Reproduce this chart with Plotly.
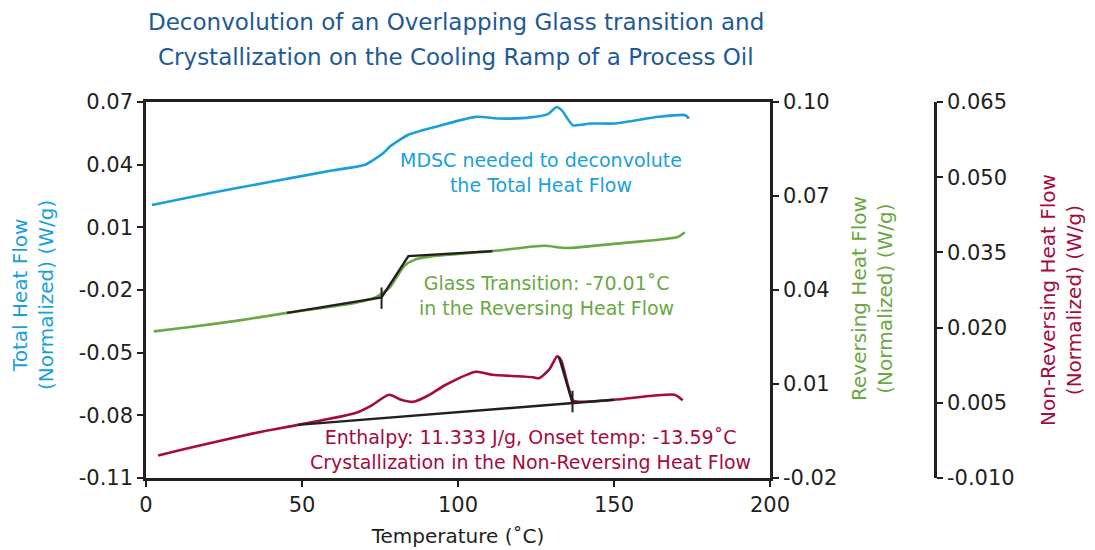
import plotly.graph_objects as go

# ---- data ----
total_T = [1.9, 20, 40, 60, 70.2, 76, 78.2, 84, 92, 105.8, 112.7, 121.8, 128.8, 131.6, 133.3, 136.8, 142.5, 150.5, 164.3, 172.9, 174]
total_v = [0.0207, 0.0262, 0.0318, 0.0373, 0.0400, 0.0455, 0.0487, 0.0542, 0.0578, 0.0629, 0.0621, 0.0624, 0.0642, 0.0676, 0.0660, 0.0589, 0.0597, 0.0597, 0.0629, 0.0637, 0.0621]

rev_T = [2.5, 13.5, 30, 45.2, 66.5, 73.5, 78.1, 82.7, 86.2, 91.9, 111, 127.7, 134.6, 150.8, 170.4, 172.7]
rev_v = [0.0268, 0.0281, 0.0303, 0.0327, 0.0358, 0.0376, 0.0408, 0.0476, 0.0497, 0.0508, 0.0524, 0.0541, 0.0534, 0.0548, 0.0569, 0.0584]

nonrev_T = [3.9, 12.4, 34.4, 48.7, 66.9, 72.1, 77.9, 81.8, 85.7, 90.3, 96.1, 105.8, 111, 124, 126, 129.2, 131.8, 133.1, 135.4, 137, 150, 169.4, 172]
nonrev_v = [-0.0055, -0.0042, -0.0011, 0.0006, 0.0029, 0.0044, 0.0066, 0.0056, 0.0052, 0.0064, 0.0086, 0.0112, 0.0106, 0.0101, 0.0099, 0.0116, 0.0143, 0.0134, 0.0081, 0.0054, 0.0056, 0.0066, 0.0055]

# glass transition analysis (reversing axis)
gt_T = [45.2, 75.5, 84.1, 111]
gt_v = [0.0327, 0.0376, 0.0508, 0.0524]
gt_mark_T = [75.5, 75.5]
gt_mark_v = [0.0408, 0.0340]

# crystallization analysis (non-reversing axis)
cr_base_T = [48.7, 150]
cr_base_v = [0.0006, 0.0056]
cr_tan_T = [132.4, 136.6]
cr_tan_v = [0.0141, 0.0052]
cr_mark_T = [136.7, 136.7]
cr_mark_v = [0.0074, 0.0031]

x_ticks = [0, 50, 100, 150, 200]
y1_ticks = [0.07, 0.04, 0.01, -0.02, -0.05, -0.08, -0.11]
y2_ticks = [0.10, 0.07, 0.04, 0.01, -0.02]
y3_ticks = [0.065, 0.050, 0.035, 0.020, 0.005, -0.010]

title_lines = ["Deconvolution of an Overlapping Glass transition and",
               "Crystallization on the Cooling Ramp of a Process Oil"]

BLUE = "#1a9fdb"
GREEN = "#6aa843"
RED = "#a50b3c"
BLACK = "#231f20"
NAVY = "#1d5a97"
FONT = "DejaVu Sans"

# page body has an 8px margin; plot area spans window px x 146..770 (third axis at 935), y 102..478
L, T_, B = 138, 94, 72
W, H = 1087, 542
PW = 789            # plot paper width (146..935)
R = W - L - PW
PH = 376


def px(X):
    return (X - 146) / PW


def py(Y):
    return (478 - Y) / PH


dom = px(770)

fig = go.Figure()
fig.add_trace(go.Scatter(x=total_T, y=total_v, mode="lines", line=dict(color=BLUE, width=2.6, shape="spline", smoothing=0.6), yaxis="y"))
fig.add_trace(go.Scatter(x=rev_T, y=rev_v, mode="lines", line=dict(color=GREEN, width=2.6, shape="spline", smoothing=0.6), yaxis="y2"))
fig.add_trace(go.Scatter(x=nonrev_T, y=nonrev_v, mode="lines", line=dict(color=RED, width=2.6, shape="spline", smoothing=0.6), yaxis="y3"))
fig.add_trace(go.Scatter(x=gt_T, y=gt_v, mode="lines", line=dict(color=BLACK, width=2.4), yaxis="y2"))
fig.add_trace(go.Scatter(x=gt_mark_T, y=gt_mark_v, mode="lines", line=dict(color=BLACK, width=2), yaxis="y2"))
fig.add_trace(go.Scatter(x=cr_base_T, y=cr_base_v, mode="lines", line=dict(color=BLACK, width=2.4), yaxis="y3"))
fig.add_trace(go.Scatter(x=cr_tan_T, y=cr_tan_v, mode="lines", line=dict(color=BLACK, width=2.4), yaxis="y3"))
fig.add_trace(go.Scatter(x=cr_mark_T, y=cr_mark_v, mode="lines", line=dict(color=BLACK, width=2), yaxis="y3"))

tickfont = dict(family=FONT, size=21, color=BLACK)
common = dict(ticks="outside", ticklen=6, tickwidth=2, tickcolor=BLACK, showline=True, linewidth=2.5,
              linecolor=BLACK, showgrid=False, zeroline=False, tickfont=tickfont)

fig.update_layout(
    width=W, height=H,
    margin=dict(l=L, r=R, t=T_, b=B, autoexpand=False),
    paper_bgcolor="white", plot_bgcolor="white",
    showlegend=False,
    font=dict(family=FONT, color=BLACK),
    xaxis=dict(domain=[0, dom], range=[0, 200], tickvals=x_ticks, mirror=True,
               title=dict(text="Temperature (˚C)", font=dict(family=FONT, size=20, color=BLACK), standoff=14), **common),
    yaxis=dict(range=[-0.11, 0.07], tickvals=y1_ticks, ticktext=[f"{v:.2f}" for v in y1_ticks], **common),
    yaxis2=dict(range=[-0.02, 0.10], tickvals=y2_ticks, ticktext=[f"{v:.2f}" for v in y2_ticks],
                overlaying="y", side="right", anchor="x", **common),
    yaxis3=dict(range=[-0.010, 0.065], tickvals=y3_ticks, ticktext=[f"{v:.3f}" for v in y3_ticks],
                overlaying="y", side="right", anchor="free", position=1, **common),
)

# title (two lines, wide spacing)
for text, Y in zip(title_lines, [22, 57]):
    fig.add_annotation(text=text, xref="paper", yref="paper", x=px(456), y=py(Y), xanchor="center", yanchor="middle",
                       showarrow=False, font=dict(family=FONT, size=23, color=NAVY))

# axis titles
fig.add_annotation(text="Total Heat Flow<br>(Normalized) (W/g)", xref="paper", yref="paper", x=px(33), y=py(295),
                   textangle=-90, xanchor="center", yanchor="middle", showarrow=False, font=dict(family=FONT, size=20, color=BLUE))
fig.add_annotation(text="Reversing Heat Flow<br>(Normalized) (W/g)", xref="paper", yref="paper", x=px(872), y=py(299),
                   textangle=-90, xanchor="center", yanchor="middle", showarrow=False, font=dict(family=FONT, size=20, color=GREEN))
fig.add_annotation(text="Non-Reversing Heat Flow<br>(Normalized) (W/g)", xref="paper", yref="paper", x=px(1061), y=py(300),
                   textangle=-90, xanchor="center", yanchor="middle", showarrow=False, font=dict(family=FONT, size=20, color=RED))

# in-plot notes
fig.add_annotation(text="MDSC needed to deconvolute<br>the Total Heat Flow", xref="paper", yref="paper", x=px(541), y=py(172),
                   xanchor="center", yanchor="middle", showarrow=False, font=dict(family=FONT, size=19, color=BLUE))
fig.add_annotation(text="Glass Transition: -70.01˚C<br>in the Reversing Heat Flow", xref="paper", yref="paper", x=px(546), y=py(295),
                   xanchor="center", yanchor="middle", showarrow=False, font=dict(family=FONT, size=19, color=GREEN))
fig.add_annotation(text="Enthalpy: 11.333 J/g, Onset temp: -13.59˚C<br>Crystallization in the Non-Reversing Heat Flow",
                   xref="paper", yref="paper", x=px(530), y=py(449),
                   xanchor="center", yanchor="middle", showarrow=False, font=dict(family=FONT, size=19, color=RED))

fig.write_html("out.html")
